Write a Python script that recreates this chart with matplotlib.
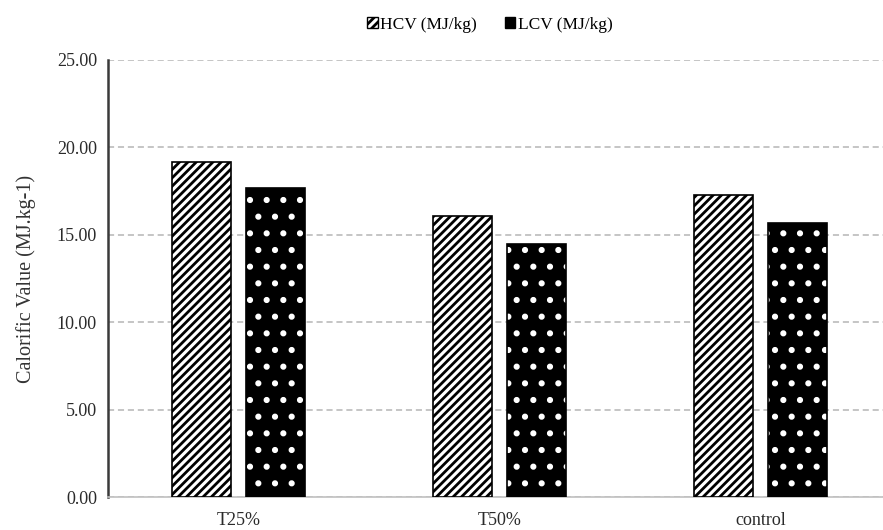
import matplotlib
matplotlib.use("Agg")
import matplotlib.pyplot as plt
import numpy as np
from matplotlib.patches import Patch

# calorific values per treatment
treatments = ["T25%", "T50%", "control"]
hcv = [19.15, 16.1, 17.25]
lcv = [17.65, 14.45, 15.7]

plt.rcParams["font.family"] = ["Liberation Serif", "DejaVu Serif"]
plt.rcParams["hatch.linewidth"] = 2.0

fig = plt.figure(figsize=(8.83, 5.30), dpi=100)
ax = fig.add_axes([108/883, 33/530, 783/883, 437/530])

x = np.arange(len(treatments))
w = 0.226
off = 0.14

# HCV: white with black diagonal stripes
ax.bar(x - off, hcv, w, color="white", edgecolor="black", hatch="////", linewidth=1.2, zorder=3)
# LCV: black with white dots, then a black outline on top
ax.bar(x + off, lcv, w, color="black", edgecolor="white", hatch=".", linewidth=0, zorder=3)
ax.bar(x + off, lcv, w, color="none", edgecolor="black", linewidth=1.2, zorder=4)

ax.set_ylim(0, 25)
ax.set_xlim(-0.5, 2.5)
ax.set_yticks([0, 5, 10, 15, 20, 25])
ax.set_yticklabels(["%.2f" % v for v in [0, 5, 10, 15, 20, 25]])
ax.set_xticks(x)
ax.set_xticklabels(treatments)
ax.tick_params(axis="both", length=0, labelsize=13, colors="#2a2a2a")
ax.tick_params(axis="y", pad=8)
ax.tick_params(axis="x", pad=11)

ax.yaxis.grid(True, color="#b5b5b5", linestyle=(0, (4, 2.5)), linewidth=1.1, zorder=0)
ax.set_axisbelow(True)
for s in ["top", "right"]:
    ax.spines[s].set_visible(False)
ax.spines["left"].set_color("#3a3a3a")
ax.spines["left"].set_linewidth(1.8)
ax.spines["bottom"].set_color("#c0c0c0")
ax.spines["bottom"].set_linewidth(1.2)

ax.set_ylabel("Calorific Value (MJ.kg-1)", fontsize=14.5, color="#333333", labelpad=15)

handles = [Patch(facecolor="white", edgecolor="black", hatch="////"),
           Patch(facecolor="black", edgecolor="black")]
fig.legend(handles, ["HCV (MJ/kg)", "LCV (MJ/kg)"], loc="upper center",
           bbox_to_anchor=(0.555, 0.998), ncol=2, frameon=False, fontsize=12.5,
           handlelength=0.6, handleheight=0.6, handletextpad=0.15, columnspacing=1.6)

fig.savefig("out.png", dpi=100)
